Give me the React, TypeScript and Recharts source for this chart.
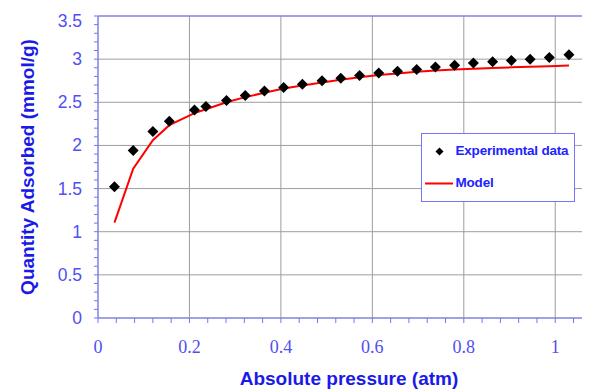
import React from "react";
import {
  ComposedChart,
  Line,
  Scatter,
  XAxis,
  YAxis,
  CartesianGrid,
  ReferenceLine,
  Legend,
} from "recharts";

// absolute pressure (atm)
const pressure = [
  0.036, 0.077, 0.12, 0.156, 0.211, 0.236, 0.281, 0.322, 0.364, 0.406, 0.447, 0.49, 0.531,
  0.572, 0.614, 0.655, 0.697, 0.738, 0.78, 0.821, 0.863, 0.904, 0.945, 0.987, 1.03,
];
// quantity adsorbed (mmol/g)
const experimental = [
  1.52, 1.94, 2.16, 2.28, 2.41, 2.45, 2.52, 2.58, 2.63, 2.67, 2.71, 2.75, 2.78, 2.81, 2.84,
  2.86, 2.88, 2.91, 2.93, 2.955, 2.97, 2.985, 3.0, 3.02, 3.05,
];
const model = [
  1.105, 1.73, 2.06, 2.235, 2.375, 2.42, 2.5, 2.56, 2.61, 2.66, 2.695, 2.73, 2.76, 2.79, 2.815,
  2.835, 2.855, 2.867, 2.879, 2.89, 2.897, 2.905, 2.913, 2.918, 2.925,
];

const xMajor = [0, 0.2, 0.4, 0.6, 0.8, 1];
const yMajor = [0, 0.5, 1, 1.5, 2, 2.5, 3, 3.5];

// minor tick marks: x every 0.04, y every 0.1
const xMinor = Array.from({ length: 27 }, (_, i) => Math.round(i * 4) / 100);
const yMinor = Array.from({ length: 36 }, (_, i) => Math.round(i * 10) / 100);

const data = pressure.map((p, i) => ({ p, exp: experimental[i], model: model[i] }));

const AXIS = "#7474ff";
const TICK = "#4f4ff2";
const TITLE = "#1a1ae8";
const GRID = "#9d9d9d";

const isMajor = (v: number, list: number[]) => list.some((m) => Math.abs(m - v) < 1e-6);

const Diamond = (props: any) => {
  const { cx, cy } = props;
  if (cx == null || cy == null) return null;
  const r = 5.5;
  return <path d={`M${cx},${cy - r}L${cx + r},${cy}L${cx},${cy + r}L${cx - r},${cy}Z`} fill="#000" />;
};

// y tick labels; the top one sits a little lower so it is not cut by the edge
const YTick = (props: any) => {
  const { x, y, payload } = props;
  const v = payload.value;
  if (!isMajor(v, yMajor)) return null;
  const top = v === yMajor[yMajor.length - 1];
  return (
    <text
      x={x}
      y={y + (top ? 5 : 0)}
      textAnchor="end"
      dominantBaseline="central"
      fill={TICK}
      fontSize={17.5}
      fontFamily="'Liberation Sans', Arial, sans-serif"
    >
      {String(v)}
    </text>
  );
};

const XTitle = (props: any) => {
  const vb = props.viewBox;
  return (
    <text
      x={vb.x + vb.width / 2 + 5}
      y={vb.y + vb.height - 6}
      textAnchor="middle"
      fill={TITLE}
      fontFamily="'Liberation Sans', Arial, sans-serif"
      fontWeight="bold"
      fontSize={19}
    >
      Absolute pressure (atm)
    </text>
  );
};

const YTitle = (props: any) => {
  const vb = props.viewBox;
  const x = 19.5;
  const y = vb.y + vb.height / 2;
  return (
    <text
      x={x}
      y={y}
      transform={`rotate(-90, ${x}, ${y})`}
      textAnchor="middle"
      dominantBaseline="central"
      fill={TITLE}
      fontFamily="'Liberation Sans', Arial, sans-serif"
      fontWeight="bold"
      fontSize={19}
    >
      Quantity Adsorbed (mmol/g)
    </text>
  );
};

const legendText: React.CSSProperties = {
  position: "absolute",
  left: 34,
  color: "#2222ff",
  fontFamily: "'Liberation Sans', Arial, sans-serif",
  fontWeight: "bold",
  fontSize: 13.5,
  letterSpacing: -0.2,
  lineHeight: "16px",
  whiteSpace: "nowrap",
};

const LegendBox = () => (
  <div
    style={{
      position: "relative",
      width: 152,
      height: 67,
      border: `1px solid ${AXIS}`,
      background: "#fff",
    }}
  >
    <svg width={152} height={67} style={{ position: "absolute", left: 0, top: 0 }}>
      <path d="M17.5,13.5L21.5,17.5L17.5,21.5L13.5,17.5Z" fill="#000" />
      <line x1={3} y1={49.5} x2={31} y2={49.5} stroke="#ff0000" strokeWidth={2} />
    </svg>
    <span style={{ ...legendText, top: 9 }}>Experimental data</span>
    <span style={{ ...legendText, top: 41 }}>Model</span>
  </div>
);

export default function App() {
  return (
    <ComposedChart
      width={582}
      height={383}
      data={data}
      margin={{ top: 8, right: 0, bottom: 0, left: 0 }}
    >
      <CartesianGrid
        stroke={GRID}
        strokeWidth={1}
        verticalValues={xMajor}
        horizontalValues={yMajor}
      />
      <XAxis
        dataKey="p"
        type="number"
        domain={[0, 1.076]}
        allowDataOverflow
        ticks={xMinor}
        interval={0}
        height={73}
        stroke={AXIS}
        tickSize={5}
        tickMargin={17}
        tickFormatter={(v: number) => (isMajor(v, xMajor) ? String(v) : "")}
        tick={{ fill: TICK, fontSize: 18, fontFamily: "'Liberation Serif', serif" }}
        label={XTitle}
      />
      <YAxis
        type="number"
        domain={[0, 3.5]}
        ticks={yMinor}
        interval={0}
        width={90}
        stroke={AXIS}
        tickSize={4}
        tickMargin={12}
        tick={YTick}
        label={YTitle}
      />
      <ReferenceLine y={3.5} stroke={AXIS} strokeWidth={1} />
      <Line
        dataKey="model"
        name="Model"
        type="linear"
        stroke="#ff0000"
        strokeWidth={2}
        dot={false}
        activeDot={false}
        isAnimationActive={false}
      />
      <Scatter
        dataKey="exp"
        name="Experimental data"
        shape={Diamond}
        isAnimationActive={false}
      />
      <Legend
        layout="vertical"
        align="center"
        verticalAlign="middle"
        content={LegendBox}
        wrapperStyle={{ left: 412.5, top: 124.5, width: 154, height: 69 }}
      />
    </ComposedChart>
  );
}
